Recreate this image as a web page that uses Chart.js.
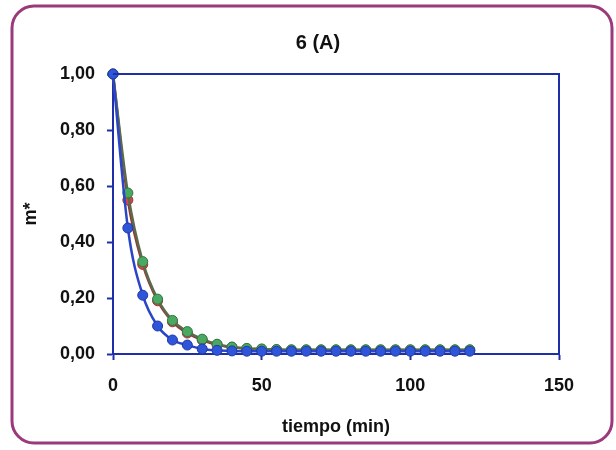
<!DOCTYPE html>
<html>
<head>
<meta charset="utf-8">
<script src="https://cdn.jsdelivr.net/npm/chart.js@4"></script>
<style>
    html, body { margin: 0; padding: 0; background: #ffffff; }
    #wrap { width: 616px; height: 450px; }
</style>
</head>
<body>
<div id="wrap"><canvas id="chart" width="616" height="450"></canvas></div>
<script>
// Data
const tiempo = [0, 5, 10, 15, 20, 25, 30, 35, 40, 45, 50, 55, 60, 65, 70, 75, 80, 85, 90, 95, 100, 105, 110, 115, 120];
const serieAzul = [1.00, 0.45, 0.21, 0.10, 0.05, 0.032, 0.018, 0.013, 0.011, 0.010, 0.010, 0.010, 0.010, 0.010, 0.010, 0.010, 0.010, 0.010, 0.010, 0.010, 0.010, 0.010, 0.010, 0.010, 0.010];
const serieVerde = [1.00, 0.575, 0.33, 0.196, 0.12, 0.08, 0.053, 0.035, 0.025, 0.020, 0.018, 0.016, 0.015, 0.015, 0.015, 0.015, 0.015, 0.015, 0.015, 0.015, 0.015, 0.015, 0.015, 0.015, 0.015];
const serieRoja = [1.00, 0.55, 0.32, 0.19, 0.115, 0.075, 0.05, 0.033, 0.024, 0.019, 0.017, 0.015, 0.014, 0.014, 0.014, 0.014, 0.014, 0.014, 0.014, 0.014, 0.014, 0.014, 0.014, 0.014, 0.014];

const titulo = '6 (A)';
const tituloX = 'tiempo (min)';
const tituloY = 'm*';

const AXIS_BLUE = '#1f2fa8';
const FONT = "'Liberation Sans', Arial, sans-serif";

function toPoints(values) {
    return tiempo.map((t, i) => ({ x: t, y: values[i] }));
}

// Rounded outer frame + top/right sides of the plot box
const framePlugin = {
    id: 'frame',
    beforeDraw(chart) {
        const ctx = chart.ctx;
        ctx.save();
        ctx.fillStyle = '#ffffff';
        ctx.fillRect(0, 0, chart.width, chart.height);
        ctx.strokeStyle = '#9a3a7a';
        ctx.lineWidth = 3;
        ctx.beginPath();
        ctx.roundRect(12, 6, 600, 437, 22);
        ctx.stroke();
        ctx.restore();
    },
    afterDraw(chart) {
        const a = chart.chartArea;
        const ctx = chart.ctx;
        ctx.save();
        ctx.strokeStyle = AXIS_BLUE;
        ctx.lineWidth = 2;
        ctx.beginPath();
        ctx.moveTo(a.left, a.top);
        ctx.lineTo(a.right, a.top);
        ctx.lineTo(a.right, a.bottom);
        ctx.stroke();
        ctx.restore();
    }
};

function buildDataset(label, values, lineColor, pointColor, pointBorder) {
    return {
        label: label,
        data: toPoints(values),
        yAxisID: 'y',
        borderColor: lineColor,
        borderWidth: 2.5,
        backgroundColor: pointColor,
        pointBackgroundColor: pointColor,
        pointBorderColor: pointBorder,
        pointBorderWidth: 1,
        pointRadius: 5,
        cubicInterpolationMode: 'monotone',
        clip: false
    };
}

const tickFont = { family: FONT, size: 18, weight: 'bold' };

new Chart(document.getElementById('chart'), {
    type: 'line',
    data: {
        datasets: [
            buildDataset('azul', serieAzul, '#2a45c8', '#2f55d8', '#1e3aa8'),
            buildDataset('verde', serieVerde, '#5a6a4a', '#4aa860', '#2f7a45'),
            buildDataset('roja', serieRoja, '#9a3535', '#d44848', '#a03030')
        ]
    },
    options: {
        responsive: false,
        animation: false,
        layout: {
            padding: { left: 20, right: 0, top: 0, bottom: 0 }
        },
        plugins: {
            legend: { display: false },
            tooltip: { enabled: false },
            title: {
                display: true,
                text: titulo,
                color: '#111111',
                font: { family: FONT, size: 20, weight: 'bold', lineHeight: 1.2 },
                padding: { top: 31, bottom: 19 }
            }
        },
        scales: {
            x: {
                type: 'linear',
                min: 0,
                max: 150,
                afterFit: function (scale) { scale.height = 96; },
                ticks: {
                    stepSize: 50,
                    padding: 15,
                    color: '#111111',
                    font: tickFont,
                    maxRotation: 0
                },
                grid: {
                    drawOnChartArea: false,
                    drawTicks: true,
                    tickLength: 6,
                    tickColor: AXIS_BLUE,
                    tickWidth: 2
                },
                border: { display: true, color: AXIS_BLUE, width: 2 },
                title: {
                    display: true,
                    text: tituloX,
                    color: '#111111',
                    font: { family: FONT, size: 18, weight: 'bold', lineHeight: 1.2 },
                    padding: { top: 0, bottom: 12 }
                }
            },
            y: {
                min: 0,
                max: 1,
                afterFit: function (scale) { scale.width = 93; },
                ticks: {
                    stepSize: 0.2,
                    padding: 12,
                    color: '#111111',
                    font: tickFont,
                    callback: function (value) {
                        return value.toFixed(2).replace('.', ',');
                    }
                },
                grid: {
                    drawOnChartArea: false,
                    drawTicks: true,
                    tickLength: 6,
                    tickColor: AXIS_BLUE,
                    tickWidth: 2
                },
                border: { display: true, color: AXIS_BLUE, width: 2 },
                title: {
                    display: true,
                    text: tituloY,
                    color: '#111111',
                    font: { family: FONT, size: 18, weight: 'bold', lineHeight: 1.2 },
                    padding: { top: 0, bottom: 0 }
                }
            },
            // empty right-hand axis that only reserves the right margin
            yRight: {
                position: 'right',
                min: 0,
                max: 1,
                afterFit: function (scale) { scale.width = 57; },
                ticks: { display: false },
                grid: { display: false },
                border: { display: false }
            }
        }
    },
    plugins: [framePlugin]
});
</script>
</body>
</html>
